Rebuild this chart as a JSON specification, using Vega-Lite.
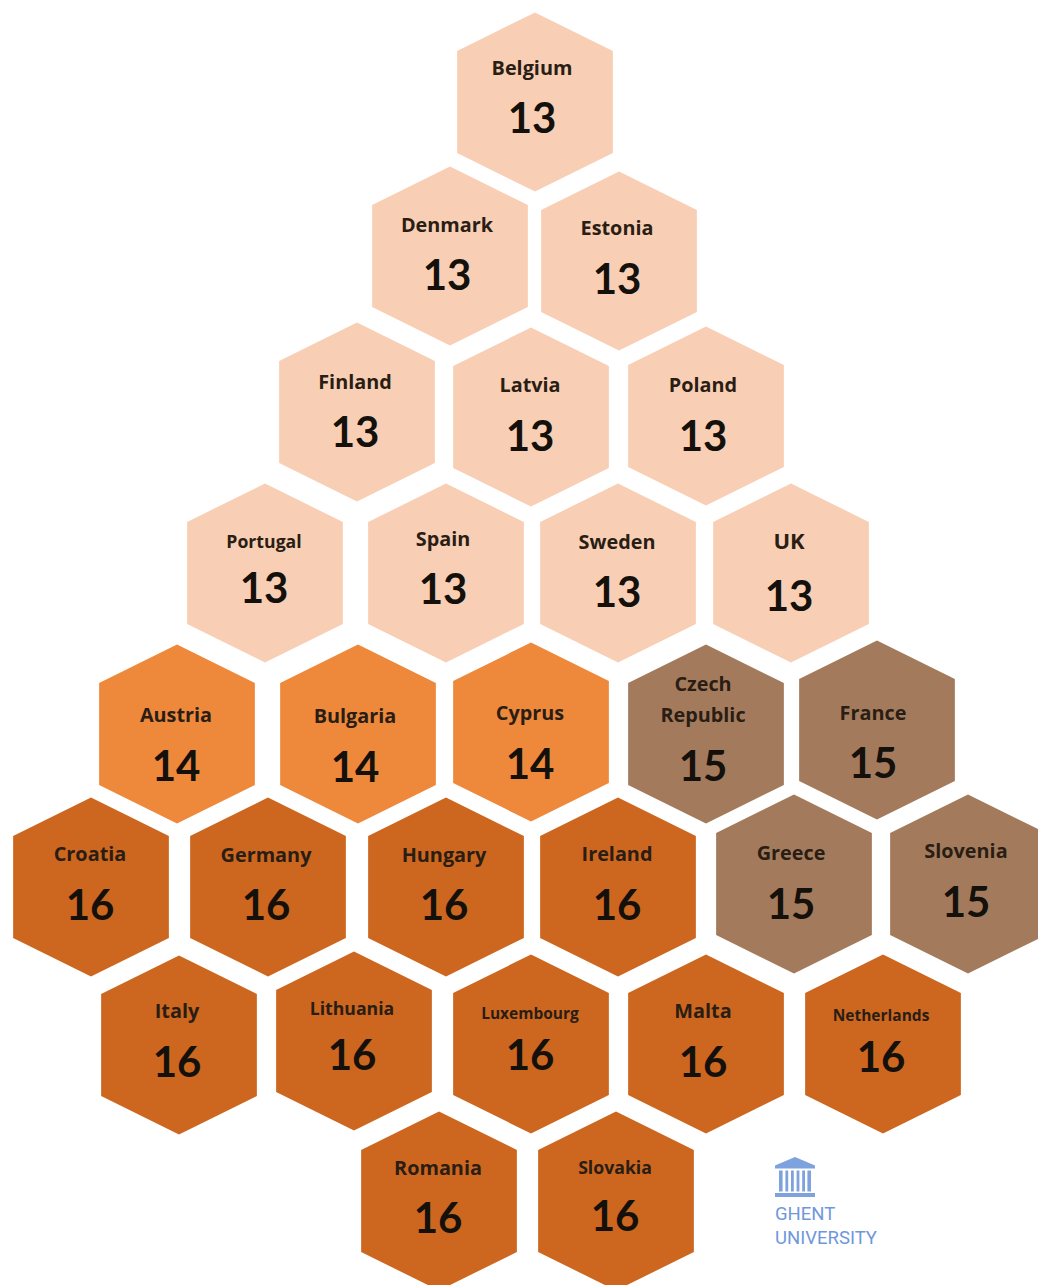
{
"$schema":"https://vega.github.io/schema/vega-lite/v6.json",
"width":1038,"height":1285,"autosize":{"type":"none"},"padding":0,
"background":"white","view":{"stroke":null},
"datasets":{
"hexes":[
{"country":"Belgium","days":13,"cx":535,"cy":102,"textX":532,"labelY":67,"valueY":118,"labelClass":"m"},
{"country":"Denmark","days":13,"cx":450,"cy":256,"textX":447,"labelY":224,"valueY":275,"labelClass":"m"},
{"country":"Estonia","days":13,"cx":619,"cy":261,"textX":617,"labelY":227,"valueY":279,"labelClass":"m"},
{"country":"Finland","days":13,"cx":357,"cy":412,"textX":355,"labelY":381,"valueY":432,"labelClass":"m"},
{"country":"Latvia","days":13,"cx":531,"cy":417,"textX":530,"labelY":384,"valueY":436,"labelClass":"m"},
{"country":"Poland","days":13,"cx":706,"cy":416,"textX":703,"labelY":384,"valueY":436,"labelClass":"m"},
{"country":"Portugal","days":13,"cx":265,"cy":573,"textX":264,"labelY":541,"valueY":588,"labelClass":"s"},
{"country":"Spain","days":13,"cx":446,"cy":573,"textX":443,"labelY":538,"valueY":589,"labelClass":"m"},
{"country":"Sweden","days":13,"cx":618,"cy":573,"textX":617,"labelY":541,"valueY":592,"labelClass":"m"},
{"country":"UK","days":13,"cx":791,"cy":573,"textX":789,"labelY":540,"valueY":596,"labelClass":"l"},
{"country":"Austria","days":14,"cx":177,"cy":734,"textX":176,"labelY":714,"valueY":766,"labelClass":"m"},
{"country":"Bulgaria","days":14,"cx":358,"cy":734,"textX":355,"labelY":715,"valueY":767,"labelClass":"m"},
{"country":"Cyprus","days":14,"cx":531,"cy":732,"textX":530,"labelY":712,"valueY":764,"labelClass":"m"},
{"country":"Czech\nRepublic","days":15,"cx":706,"cy":734,"textX":703,"labelY":683,"valueY":766,"labelClass":"m"},
{"country":"France","days":15,"cx":877,"cy":730,"textX":873,"labelY":712,"valueY":763,"labelClass":"m"},
{"country":"Croatia","days":16,"cx":91,"cy":887,"textX":90,"labelY":853,"valueY":905,"labelClass":"m"},
{"country":"Germany","days":16,"cx":268,"cy":887,"textX":266,"labelY":854,"valueY":905,"labelClass":"m"},
{"country":"Hungary","days":16,"cx":446,"cy":887,"textX":444,"labelY":854,"valueY":905,"labelClass":"m"},
{"country":"Ireland","days":16,"cx":618,"cy":887,"textX":617,"labelY":853,"valueY":905,"labelClass":"m"},
{"country":"Greece","days":15,"cx":794,"cy":884,"textX":791,"labelY":852,"valueY":904,"labelClass":"m"},
{"country":"Slovenia","days":15,"cx":968,"cy":884,"textX":966,"labelY":850,"valueY":902,"labelClass":"m"},
{"country":"Italy","days":16,"cx":179,"cy":1045,"textX":177,"labelY":1010,"valueY":1062,"labelClass":"m"},
{"country":"Lithuania","days":16,"cx":354,"cy":1041,"textX":352,"labelY":1008,"valueY":1055,"labelClass":"s"},
{"country":"Luxembourg","days":16,"cx":531,"cy":1044,"textX":530,"labelY":1012,"valueY":1055,"labelClass":"xs"},
{"country":"Malta","days":16,"cx":706,"cy":1044,"textX":703,"labelY":1010,"valueY":1062,"labelClass":"m"},
{"country":"Netherlands","days":16,"cx":883,"cy":1044,"textX":881,"labelY":1014,"valueY":1057,"labelClass":"xs"},
{"country":"Romania","days":16,"cx":439,"cy":1201,"textX":438,"labelY":1167,"valueY":1218,"labelClass":"m"},
{"country":"Slovakia","days":16,"cx":616,"cy":1201,"textX":615,"labelY":1167,"valueY":1216,"labelClass":"s"}
],
"logo":[{"name":"GHENT","cx":775,"cy":1213},{"name":"UNIVERSITY","cx":775,"cy":1237}],
"crest":[{"cx":795,"cy":1177}]
},
"layer":[
{"data":{"name":"hexes"},
 "mark":{"type":"point","filled":true,"opacity":1,"size":32041,"shape":"M0,-1L0.87,-0.57L0.87,0.57L0,1L-0.87,0.57L-0.87,-0.57Z"},
 "encoding":{
  "x":{"field":"cx","type":"quantitative","scale":{"domain":[0,1038]},"axis":null},
  "y":{"field":"cy","type":"quantitative","scale":{"domain":[1285,0]},"axis":null},
  "color":{"field":"days","type":"ordinal","legend":null,"scale":{"domain":[13,14,15,16],"range":["#F8CFB4","#EE893C","#A37B5C","#CD671F"]}}}},
{"data":{"name":"hexes"},
 "mark":{"type":"text","font":"Open Sans","fontWeight":"bold","align":"center","baseline":"middle","color":"#2a1d14","lineHeight":31,"lineBreak":"\n","dy":2},
 "encoding":{
  "x":{"field":"textX","type":"quantitative","scale":{"domain":[0,1038]},"axis":null},
  "y":{"field":"labelY","type":"quantitative","scale":{"domain":[1285,0]},"axis":null},
  "text":{"field":"country","type":"nominal"},
  "size":{"field":"labelClass","type":"nominal","legend":null,"scale":{"domain":["xs","s","m","l"],"range":[15.5,22,27,34]}}}},
{"data":{"name":"hexes"},
 "mark":{"type":"text","font":"Lato","fontWeight":"bold","fontSize":42,"align":"center","baseline":"middle","color":"#14100c","dy":2},
 "encoding":{
  "x":{"field":"textX","type":"quantitative","scale":{"domain":[0,1038]},"axis":null},
  "y":{"field":"valueY","type":"quantitative","scale":{"domain":[1285,0]},"axis":null},
  "text":{"field":"days","type":"nominal"}}},
{"data":{"name":"crest"},
 "mark":{"type":"point","filled":true,"opacity":1,"color":"#7EA2DE","size":1600,"shape":"M0,-1L1,-0.58L1,-0.42L-1,-0.42L-1,-0.58ZM-0.8,-0.32L-0.62,-0.32L-0.62,0.72L-0.8,0.72ZM-0.48,-0.32L-0.34,-0.32L-0.34,0.72L-0.48,0.72ZM-0.2,-0.32L-0.06,-0.32L-0.06,0.72L-0.2,0.72ZM0.08,-0.32L0.22,-0.32L0.22,0.72L0.08,0.72ZM0.36,-0.32L0.5,-0.32L0.5,0.72L0.36,0.72ZM0.62,-0.32L0.8,-0.32L0.8,0.72L0.62,0.72ZM-1,0.8L1,0.8L1,1L-1,1Z"},
 "encoding":{
  "x":{"field":"cx","type":"quantitative","scale":{"domain":[0,1038]},"axis":null},
  "y":{"field":"cy","type":"quantitative","scale":{"domain":[1285,0]},"axis":null}}},
{"data":{"name":"logo"},
 "mark":{"type":"text","font":"Roboto","fontSize":18.5,"align":"left","baseline":"middle","color":"#6F97DC","dy":1},
 "encoding":{
  "x":{"field":"cx","type":"quantitative","scale":{"domain":[0,1038]},"axis":null},
  "y":{"field":"cy","type":"quantitative","scale":{"domain":[1285,0]},"axis":null},
  "text":{"field":"name","type":"nominal"}}}
]
}
